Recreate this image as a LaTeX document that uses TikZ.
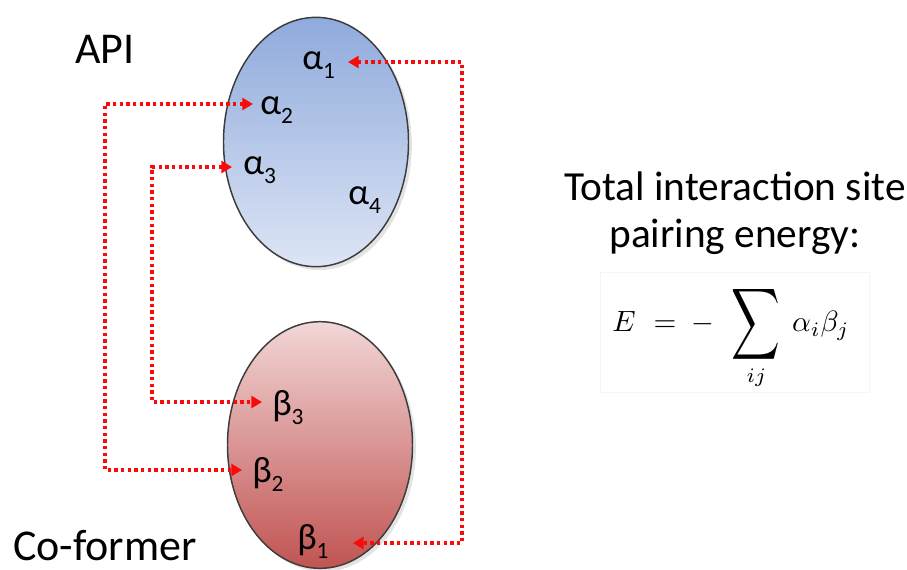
\RequirePackage{fix-cm}
\documentclass[tikz,border=0pt]{standalone}
\usepackage{amsmath}
\usepackage[no-math]{fontspec}
\setmainfont{Carlito}
\usetikzlibrary{arrows.meta,shapes.geometric,shadows}
\definecolor{blueTop}{RGB}{143,170,220}
\definecolor{blueBot}{RGB}{221,229,245}
\definecolor{redTop}{RGB}{242,214,214}
\definecolor{redBot}{RGB}{192,84,82}
\definecolor{rim}{RGB}{60,60,60}
\definecolor{dotred}{RGB}{250,10,10}
\newcommand\sbs[1]{\raisebox{-6.8pt}{\fontsize{17.5}{20}\selectfont #1}}
\begin{document}
\begin{tikzpicture}[x=0.75pt,y=-0.75pt,
  blob/.style={ellipse,draw=rim,line width=1.1pt,minimum width=138.75pt,minimum height=187pt,inner sep=0pt,
    drop shadow={opacity=0.22,shadow xshift=2.5pt,shadow yshift=-2.5pt}},
  big/.style={font=\fontsize{33}{40}\selectfont,inner sep=0pt},
  side/.style={font=\fontsize{31}{38}\selectfont,inner sep=0pt,anchor=base},
  site/.style={font=\fontsize{27.5}{30}\selectfont,inner sep=0pt,anchor=base west},
  conn/.style={draw=dotred,line width=3pt,dash pattern=on 2.6pt off 2.4pt,
    {Triangle[length=8pt,width=9pt]}-{Triangle[length=8pt,width=9pt]}}
]
\useasboundingbox (0,0) rectangle (907,569);
% ellipses
\node[blob,top color=blueTop,bottom color=blueBot] (apiblob) at (316,142) {};
\node[blob,top color=redTop,bottom color=redBot,minimum height=185pt] (cofblob) at (320,445) {};
% titles
\node[big,anchor=base west] (apilbl) at (75,63) {API};
\node[big,anchor=base west] (coflbl) at (13,560) {Co-former};
% site labels
\node[site] (a1) at (302,69) {α\sbs{1}};
\node[site] (a2) at (260,114) {α\sbs{2}};
\node[site] (a3) at (243,174) {α\sbs{3}};
\node[site] (a4) at (348,204) {α\sbs{4}};
\node[site] (b3) at (272,415) {β\sbs{3}};
\node[site] (b2) at (252,482) {β\sbs{2}};
\node[site] (b1) at (297,549) {β\sbs{1}};
% corner coordinates
\coordinate (r1) at (462,300);
\coordinate (l2) at (105,300);
\coordinate (l3) at (152,300);
% connectors
\draw[conn] ([shift={(46,-7)}]a1.base west) -| (r1) |- ([shift={(56,-6)}]b1.base west);
\draw[conn] ([shift={(-7,-10)}]a2.base west) -| (l2) |- ([shift={(-10,-12)}]b2.base west);
\draw[conn] ([shift={(-11,-7)}]a3.base west) -| (l3) |- ([shift={(-10,-13)}]b3.base west);
% right text
\node[side] (t1) at (735,200) {Total interaction site};
\node[side] (t2) at (735,247) {pairing energy:};
\node[draw=black!4,line width=0.6pt,minimum width=202pt,minimum height=90pt,inner sep=0pt] (fbox) at (735,332) {};
\node[inner sep=0pt] (formula) at (731,337)
  {\scalebox{2.2}{$\displaystyle E\mskip6mu=\mskip4mu-\mskip8mu\mathop{\vcenter{\hbox{\scalebox{1.15}[1.7]{$\displaystyle\sum$}}}}\limits_{ij}\mskip4mu\alpha_i\beta_j$}};
\end{tikzpicture}
\end{document}
